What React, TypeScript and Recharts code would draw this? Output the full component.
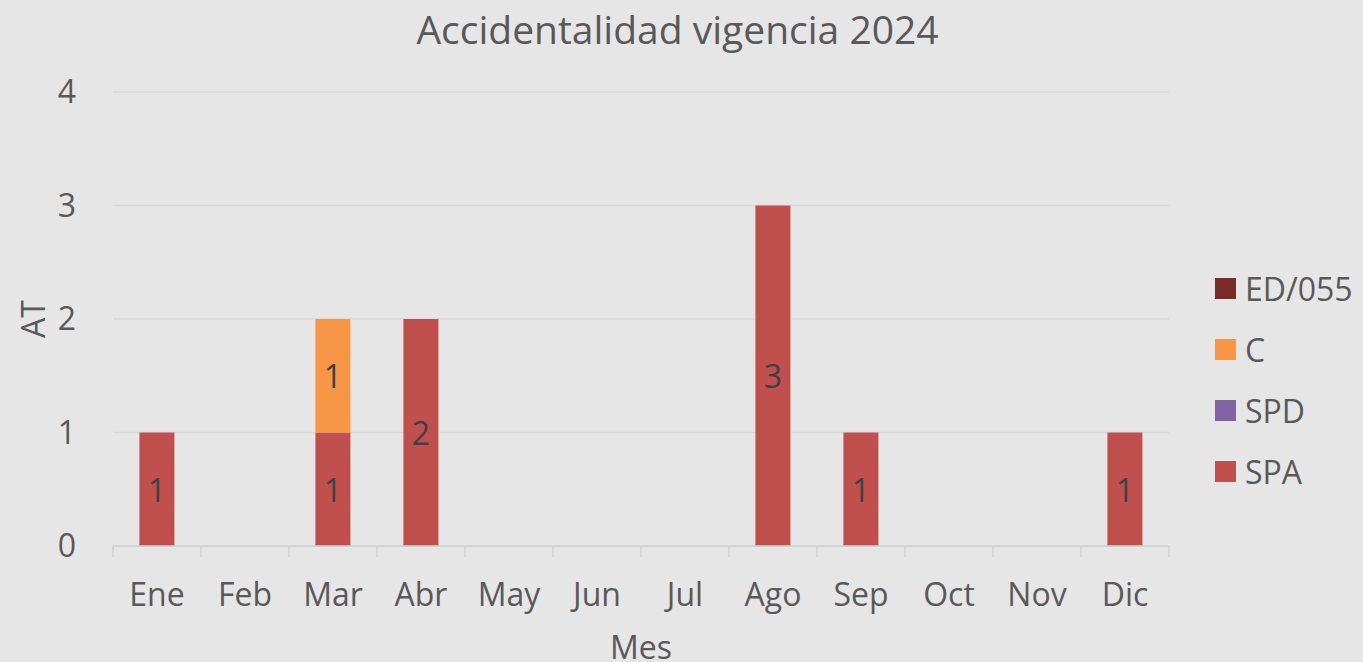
import React from 'react';
import { BarChart, Bar, XAxis, YAxis, CartesianGrid, LabelList } from 'recharts';

const months = ['Ene', 'Feb', 'Mar', 'Abr', 'May', 'Jun', 'Jul', 'Ago', 'Sep', 'Oct', 'Nov', 'Dic'];
const spa = [1, 0, 1, 2, 0, 0, 0, 3, 1, 0, 0, 1];
const spd = [0, 0, 0, 0, 0, 0, 0, 0, 0, 0, 0, 0];
const c = [0, 0, 1, 0, 0, 0, 0, 0, 0, 0, 0, 0];
const ed055 = [0, 0, 0, 0, 0, 0, 0, 0, 0, 0, 0, 0];
const yTicks = [0, 1, 2, 3, 4];

const data = months.map((m, i) => ({ mes: m, SPA: spa[i], SPD: spd[i], C: c[i], 'ED/055': ed055[i] }));

const FONT = '"Open Sans", sans-serif';
const TEXT = '#595959';
const BG = '#e6e6e6';
const FS = 32;

const series = [
  { key: 'SPA', color: '#c0504d' },
  { key: 'SPD', color: '#8064a2' },
  { key: 'C', color: '#f79646' },
  { key: 'ED/055', color: '#772c2a' },
];

const ValueLabel = (props: any) => {
  const { x, y, width, height, value } = props;
  if (!value) return null;
  return (
    <text x={x + width / 2} y={y + height / 2} textAnchor="middle" dominantBaseline="central"
      fill="#404040" fontSize={FS} fontFamily={FONT}>{value}</text>
  );
};

const MonthTick = (props: any) => {
  const { x, y, payload, index, width, visibleTicksCount } = props;
  const band = width / visibleTicksCount;
  const axisY = y - 31;
  return (
    <g>
      <line x1={x - band / 2} x2={x - band / 2} y1={axisY} y2={axisY + 11} stroke="#d0d0d0" strokeWidth={1.5} />
      {index === visibleTicksCount - 1 && (
        <line x1={x + band / 2} x2={x + band / 2} y1={axisY} y2={axisY + 11} stroke="#d0d0d0" strokeWidth={1.5} />
      )}
      <text x={x} y={axisY + 47} textAnchor="middle" dominantBaseline="central" fill={TEXT}
        fontSize={FS} fontFamily={FONT}>{payload.value}</text>
    </g>
  );
};

const LegendBox = () => (
  <div style={{ position: 'absolute', left: 1215, top: 258, fontFamily: FONT }}>
    {[...series].reverse().map((s) => (
      <div key={s.key} style={{ display: 'flex', alignItems: 'center', height: 61 }}>
        <div style={{ width: 21, height: 21, background: s.color, marginRight: 9 }} />
        <span style={{ fontSize: FS, color: TEXT }}>{s.key}</span>
      </div>
    ))}
  </div>
);

export default function App() {
  return (
    <div style={{ position: 'fixed', left: 0, top: 0, width: 1363, height: 662, background: BG, overflow: 'hidden' }}>
      <div style={{ position: 'absolute', top: 2, width: 1363, left: -4, textAlign: 'center', fontFamily: FONT, fontSize: 39, color: TEXT }}>
        Accidentalidad vigencia 2024
      </div>
      <BarChart width={1363} height={662} data={data} barCategoryGap="30%"
        margin={{ top: 92, right: 194, left: 0, bottom: 0 }}>
        <CartesianGrid vertical={false} stroke="#d9d9d9" strokeWidth={1.5} />
        <XAxis dataKey="mes" height={116} tickLine={false} tickSize={0} tickMargin={31}
          axisLine={{ stroke: '#d0d0d0', strokeWidth: 1.5 }} tick={<MonthTick />} interval={0}
          label={(p: any) => (
            <text x={p.viewBox.x + p.viewBox.width / 2} y={646} textAnchor="middle" dominantBaseline="central"
              fill={TEXT} fontSize={FS} fontFamily={FONT}>Mes</text>
          )} />
        <YAxis width={113} domain={[0, 4]} ticks={yTicks} axisLine={false} tickLine={false}
          tickSize={0} tickMargin={37} tick={{ fill: TEXT, fontSize: FS, fontFamily: FONT }}
          label={(p: any) => {
            const cy = p.viewBox.y + p.viewBox.height / 2;
            return (
              <text x={32} y={cy} transform={`rotate(-90 32 ${cy})`} textAnchor="middle" dominantBaseline="central"
                fill={TEXT} fontSize={FS} fontFamily={FONT}>AT</text>
            );
          }} />
        {series.map((s) => (
          <Bar key={s.key} dataKey={s.key} stackId="a" fill={s.color} isAnimationActive={false}>
            <LabelList dataKey={s.key} content={<ValueLabel />} />
          </Bar>
        ))}
      </BarChart>
      <LegendBox />
    </div>
  );
}
